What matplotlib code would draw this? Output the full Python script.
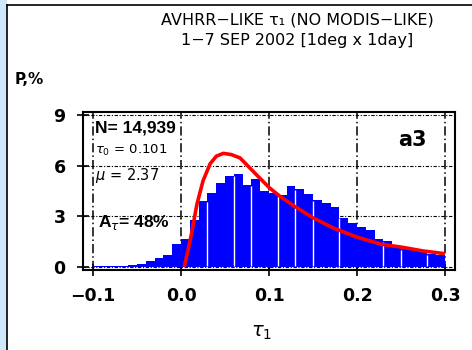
import numpy as np
import matplotlib
matplotlib.use("Agg")
from matplotlib import pyplot as plt
from matplotlib.patches import Rectangle

# histogram of tau_1, 0.01-wide bins starting at -0.10
bin_left = np.round(np.arange(-0.10, 0.30, 0.01), 2)
freq = [0.04, 0.04, 0.07, 0.07, 0.09, 0.17, 0.33, 0.55, 0.72, 1.35,
        1.64, 2.80, 3.87, 4.36, 4.95, 5.40, 5.50, 4.85, 5.19, 4.48,
        4.40, 4.25, 4.81, 4.59, 4.34, 3.97, 3.77, 3.53, 2.92, 2.58,
        2.34, 2.19, 1.64, 1.51, 1.25, 1.05, 1.02, 0.90, 0.74, 0.72]

# fitted curve (red)
fit_tau = [0.004, 0.008, 0.012, 0.018, 0.025, 0.033, 0.040, 0.048, 0.057,
           0.067, 0.082, 0.100, 0.113, 0.130, 0.150, 0.173, 0.200, 0.228,
           0.250, 0.275, 0.298]
fit_p = [0.1, 1.0, 2.0, 3.7, 5.1, 6.1, 6.55, 6.72, 6.65, 6.45, 5.65, 4.70,
         4.15, 3.55, 2.90, 2.30, 1.76, 1.33, 1.17, 0.94, 0.79]

xticks = [-0.1, 0.0, 0.1, 0.2, 0.3]
xticklabels = ['\u22120.1', '0.0', '0.1', '0.2', '0.3']
yticks = [0, 3, 6, 9]

stats = ['N= 14,939', r'$\tau_0$ = 0.101', r'$\mu$ = 2.37', r'A$_\tau$= 48%']
panel = 'a3'

# where thin white gaps show between bars
gap_edges = [0.03, 0.06, 0.08, 0.11, 0.13, 0.15, 0.18, 0.23, 0.25, 0.28]

fig = plt.figure(figsize=(4.72, 3.5), dpi=100, facecolor='white')

# light blue strip on the left and the panel border
fig.patches.append(Rectangle((0, 0), 7/472, 1, transform=fig.transFigure,
                             facecolor='#cfe8fc', edgecolor='none', zorder=0))
fig.add_artist(plt.Line2D([7/472, 7/472], [0, 1 - 5/350], color='black', lw=1.2,
                          transform=fig.transFigure))
fig.add_artist(plt.Line2D([7/472, 1], [1 - 5/350, 1 - 5/350], color='black', lw=1.2,
                          transform=fig.transFigure))

ax = fig.add_axes([0.176, 0.229, 0.788, 0.451])
ax.set_xlim(-0.1114, 0.3114)
ax.set_ylim(-0.18, 9.17)

# grid behind the bars
for x in xticks:
    ax.axvline(x, color='black', lw=1.1, ls=(0, (6, 2, 1, 2)), zorder=0)
for y in yticks:
    ax.axhline(y, color='black', lw=0.8, ls=(0, (3, 1.5, 1, 1.5)), zorder=0)

ax.bar(bin_left, freq, width=0.01, align='edge', color='#0000ff',
       edgecolor='none', zorder=2)

heights = dict(zip(bin_left, freq))
for e in gap_edges:
    e = round(e, 2)
    h = min(heights.get(round(e - 0.01, 2), 0), heights.get(e, 0))
    ax.vlines(e, 0.05, h - 0.05, color='white', lw=1.0, zorder=3)

ax.plot(fit_tau, fit_p, color='#ff0000', lw=2.6, zorder=4)

ax.set_xticks(xticks)
ax.set_xticklabels(xticklabels)
ax.set_yticks(yticks)
ax.tick_params(direction='inout', length=9, width=1.2, labelsize=12.5, pad=8)
for lab in ax.get_xticklabels() + ax.get_yticklabels():
    lab.set_fontweight('bold')
for s in ax.spines.values():
    s.set_linewidth(1.5)

ax.text(0.032, 0.90, stats[0], transform=ax.transAxes, fontsize=12.5,
        fontweight='bold', va='center', zorder=5, family='Liberation Sans')
ax.text(0.032, 0.755, stats[1], transform=ax.transAxes, fontsize=9.5,
        va='center', zorder=5)
ax.text(0.032, 0.60, stats[2], transform=ax.transAxes, fontsize=10.5,
        va='center', zorder=5)
ax.text(0.040, 0.30, stats[3], transform=ax.transAxes, fontsize=12.5,
        fontweight='bold', va='center', zorder=3, family='Liberation Sans')
ax.text(0.885, 0.82, panel, transform=ax.transAxes, fontsize=15,
        fontweight='bold', ha='center', va='center', zorder=5)

fig.text(297/472, 1 - 20/350, 'AVHRR\u2212LIKE \u03c4\u2081 (NO MODIS\u2212LIKE)',
         ha='center', va='center', fontsize=11.5)
fig.text(297/472, 1 - 41/350, '1\u22127 SEP 2002 [1deg x 1day]',
         ha='center', va='center', fontsize=11.5)
fig.text(15/472, 1 - 79/350, 'P,%', ha='left', va='center', fontsize=11,
         fontweight='bold')
fig.text(262/472, 1 - 333/350, r'$\tau_1$', ha='center', va='center', fontsize=14)

fig.savefig('out.png', dpi=100)
